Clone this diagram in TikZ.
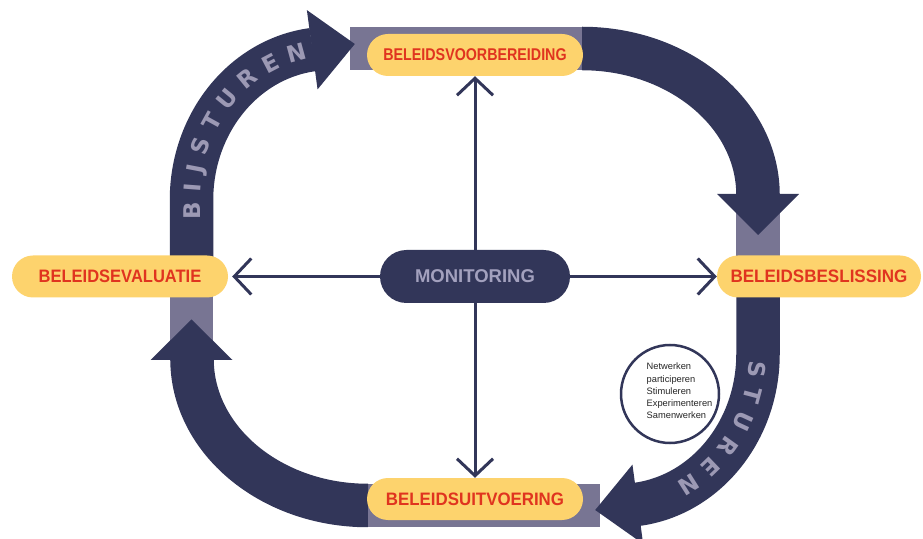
\documentclass[tikz,border=0pt]{standalone}
\usepackage{fontspec}
\setmainfont{Liberation Sans}
\newfontfamily\bandfont{DejaVu Sans}[UprightFont={* Bold}]
\usetikzlibrary{arrows.meta,decorations.text}
\definecolor{navy}{HTML}{323659}
\definecolor{lightband}{HTML}{787593}
\definecolor{pill}{HTML}{FDD36D}
\definecolor{labred}{HTML}{E0341F}
\definecolor{montext}{HTML}{A3A1BE}
\definecolor{bandtext}{HTML}{9C99B4}
\begin{document}
\begin{tikzpicture}[x=1pt,y=1pt,
  band/.style={line width=43.5pt, draw=navy},
  lband/.style={line width=43.5pt, draw=lightband},
  headfill/.style={fill=navy},
  pillnode/.style={fill=pill, rounded corners=21pt, minimum height=42pt, inner sep=0pt, text=labred, font=\fontsize{18}{18}\selectfont\bfseries},
  monnode/.style={fill=navy, rounded corners=26.5pt, minimum width=190pt, minimum height=53pt, inner sep=0pt, text=montext, font=\fontsize{18.5}{18.5}\selectfont\bfseries},
  conn/.style={draw=navy, line width=3pt, -{Straight Barb[length=17pt,width=36pt]}},
  bandlabel/.style={decorate, decoration={text along path, text align=fit to path, raise=-8.5pt, text={#1}}}
]
\useasboundingbox (0,0) rectangle (923,538);

% light band segments
\draw[lband] (350,489.5) -- (583,489.5);
\draw[lband] (758,345) -- (758,262);
\draw[lband] (367,32.5) -- (600,32.5);
\draw[lband] (191.5,177) -- (191.5,262);

% dark bands
\draw[band] (191.5,270) -- (191.5,338) arc[start angle=180,end angle=97,x radius=138pt,y radius=151.5pt];
\begin{scope}[shift={(313.2,488.4)},rotate=7.68]
  \fill[headfill] (-1,40) -- (42,0) -- (-1,-40) -- cycle;
\end{scope}
\draw[band] (582,489.5) arc[start angle=90,end angle=0,x radius=176pt,y radius=146.5pt];
\fill[headfill] (717,344) -- (799,344) -- (758,303) -- cycle;

\draw[band] (758,262) -- (758,184) arc[start angle=0,end angle=-83,x radius=138pt,y radius=151.5pt];
\begin{scope}[shift={(636.8,33.6)},rotate=187.68]
  \fill[headfill] (-1,40) -- (42,0) -- (-1,-40) -- cycle;
\end{scope}
\draw[band] (368,32.5) arc[start angle=270,end angle=180,x radius=176pt,y radius=146.5pt];
\fill[headfill] (150.5,178) -- (232.5,178) -- (191.5,218.5) -- cycle;

% band labels
\path[bandlabel={|\bandfont\fontsize{23}{23}\selectfont\color{bandtext}|BIJSTUREN}]
  (191.5,318) -- (191.5,338) arc[start angle=180,end angle=100,x radius=138pt,y radius=151.5pt];
\path[bandlabel={|\bandfont\fontsize{23}{23}\selectfont\color{bandtext}|STUREN}]
  (757.9,177) arc[start angle=-3,end angle=-64,x radius=138pt,y radius=151.5pt];

% nodes
\node[pillnode, minimum width=216pt] (prep) at (475,483) {\fontsize{17}{17}\selectfont\scalebox{0.84}[1]{BELEIDSVOORBEREIDING}};
\node[pillnode, minimum width=204pt] (dec) at (819,261.5) {\scalebox{0.946}[1]{BELEIDSBESLISSING}};
\node[pillnode, minimum width=216pt] (eval) at (120,261.5) {\scalebox{0.917}[1]{BELEIDSEVALUATIE}};
\node[pillnode, minimum width=216pt] (exec) at (475,39) {\scalebox{0.937}[1]{BELEIDSUITVOERING}};
\node[monnode] (mon) at (475,261.5) {MONITORING};

% connectors
\draw[conn] (mon) -- (prep);
\draw[conn] (mon) -- (exec);
\draw[conn] (mon) -- (dec);
\draw[conn, shorten >=4pt] (mon) -- (eval);

% circle
\node[circle, draw=navy, line width=2.5pt, fill=white, minimum size=98pt] (circ) at (670,144) {};
\node[align=left, anchor=west, inner sep=0pt, font=\fontsize{9.3}{12.2}\selectfont, text=black!85] (circtext) at (646.5,147) {Netwerken\\participeren\\Stimuleren\\Experimenteren\\Samenwerken};
\end{tikzpicture}
\end{document}
